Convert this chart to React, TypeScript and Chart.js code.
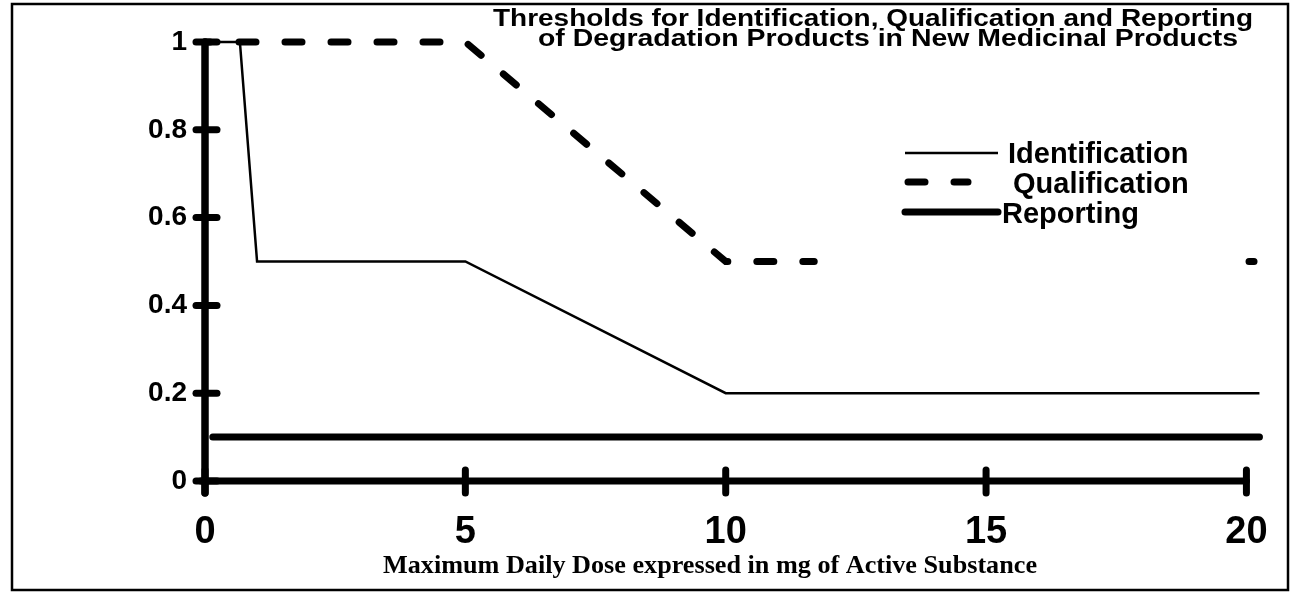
import React, { useEffect, useRef } from 'react';
import { Chart, registerables } from 'chart.js';

Chart.register(...registerables);

// ---- data ----
const identificationX = [0, 0.67, 1, 5, 10, 20.25];
const identificationY = [1, 1, 0.5, 0.5, 0.2, 0.2];

const qualificationX = [0, 5, 10, 11.7, 16, 20.05, 20.25];
const qualificationY: (number | null)[] = [1, 1, 0.5, 0.5, null, 0.5, 0.5];

const reportingX = [0.15, 20.25];
const reportingY = [0.1, 0.1];

const xTickValues = [0, 5, 10, 15, 20];
const yTickValues = [0, 0.2, 0.4, 0.6, 0.8, 1];

const seriesNames = ['Identification', 'Qualification', 'Reporting'];
const titleLines = [
  'Thresholds for Identification, Qualification and Reporting',
  'of Degradation Products in New Medicinal Products',
];
const xAxisTitle = 'Maximum Daily Dose expressed in mg of Active Substance';

const SANS = "'Liberation Sans', Arial, Helvetica, sans-serif";
const SERIF = "'Liberation Serif', 'Times New Roman', serif";

const toPoints = (xs: number[], ys: (number | null)[]) =>
  xs.map((x, i) => ({ x, y: ys[i] }));

// draws text so that it spans [left, right], stretching horizontally if needed
const fitText = (ctx: CanvasRenderingContext2D, text: string, left: number, right: number, baseline: number) => {
  const w = ctx.measureText(text).width;
  const sx = (right - left) / w;
  ctx.save();
  ctx.textAlign = 'left';
  ctx.translate(left, baseline);
  ctx.scale(sx, 1);
  ctx.fillText(text, 0, 0);
  ctx.restore();
};

const decorPlugin = {
  id: 'decor',
  beforeDraw(chart: any) {
    const ctx = chart.ctx;
    ctx.save();
    ctx.fillStyle = '#ffffff';
    ctx.fillRect(0, 0, chart.width, chart.height);
    ctx.strokeStyle = '#000';
    ctx.lineWidth = 2.5;
    ctx.strokeRect(12, 4, 1276, 586);
    ctx.restore();
  },
  beforeDatasetsDraw(chart: any) {
    const ctx = chart.ctx;
    const xs = chart.scales.x;
    const ys = chart.scales.y;
    const x0 = xs.getPixelForValue(0);
    const xEnd = xs.getPixelForValue(xTickValues[xTickValues.length - 1]);
    const y0 = ys.getPixelForValue(0);
    const yTop = ys.getPixelForValue(yTickValues[yTickValues.length - 1]);
    const seg = (a: number, b: number, c: number, d: number, w: number) => {
      ctx.lineWidth = w;
      ctx.beginPath();
      ctx.moveTo(a, b);
      ctx.lineTo(c, d);
      ctx.stroke();
    };
    ctx.save();
    ctx.strokeStyle = '#000';
    ctx.lineCap = 'round';
    // axes
    seg(x0 - 4, y0, xEnd, y0, 7);
    seg(x0, y0 + 12, x0, yTop, 7.5);
    // y tick marks
    yTickValues.forEach((v) => {
      const y = ys.getPixelForValue(v);
      seg(x0 - 9, y, x0 + 12, y, 7);
    });
    // x tick marks
    xTickValues.forEach((v) => {
      const x = xs.getPixelForValue(v);
      seg(x, y0 - 11, x, y0 + 12, 7);
    });
    ctx.restore();
  },
  afterDraw(chart: any) {
    const ctx = chart.ctx;
    ctx.save();
    ctx.fillStyle = '#000';
    ctx.strokeStyle = '#000';
    ctx.textBaseline = 'alphabetic';
    // main title
    ctx.font = `bold 23px ${SANS}`;
    fitText(ctx, titleLines[0], 493, 1253, 26);
    fitText(ctx, titleLines[1], 538, 1238, 46);
    // x axis title
    ctx.font = `bold 25px ${SERIF}`;
    fitText(ctx, xAxisTitle, 383, 1037, 573);

    // legend
    const ds = chart.data.datasets;
    const rows = [
      { y: 153, textX: 1008, base: 163, from: 905, to: 998 },
      { y: 182, textX: 1013, base: 193, from: 908, to: 968 },
      { y: 212, textX: 1002, base: 223, from: 905, to: 998 },
    ];
    rows.forEach((r, i) => {
      const d = ds[i];
      ctx.lineWidth = d.borderWidth;
      ctx.lineCap = d.borderCapStyle || 'butt';
      ctx.setLineDash(d.borderDash || []);
      ctx.lineDashOffset = 0;
      ctx.beginPath();
      ctx.moveTo(r.from, r.y);
      ctx.lineTo(r.to, r.y);
      ctx.stroke();
      ctx.setLineDash([]);
      ctx.font = `bold 29px ${SANS}`;
      ctx.textAlign = 'left';
      ctx.fillText(seriesNames[i], r.textX, r.base);
    });
    ctx.restore();
  },
};

export default function App() {
  const canvasRef = useRef<HTMLCanvasElement | null>(null);

  useEffect(() => {
    document.body.style.margin = '0';
    const canvas = canvasRef.current;
    if (!canvas) return;
    const chart = new Chart(canvas, {
      type: 'line',
      data: {
        datasets: [
          {
            label: seriesNames[0],
            data: toPoints(identificationX, identificationY),
            borderColor: '#000',
            borderWidth: 2.5,
            pointRadius: 0,
            tension: 0,
            fill: false,
            clip: false,
          },
          {
            label: seriesNames[1],
            data: toPoints(qualificationX, qualificationY),
            borderColor: '#000',
            borderWidth: 7,
            borderDash: [17, 29],
            borderDashOffset: 12,
            borderCapStyle: 'round',
            pointRadius: 0,
            tension: 0,
            fill: false,
            spanGaps: false,
            clip: false,
          },
          {
            label: seriesNames[2],
            data: toPoints(reportingX, reportingY),
            borderColor: '#000',
            borderWidth: 7,
            borderCapStyle: 'round',
            pointRadius: 0,
            tension: 0,
            fill: false,
            clip: false,
          },
        ] as any,
      },
      options: {
        responsive: false,
        animation: false,
        devicePixelRatio: 1,
        layout: { padding: { top: 42, right: 30, left: 0, bottom: 0 } },
        plugins: {
          legend: { display: false },
          tooltip: { enabled: false },
          title: { display: false },
        },
        scales: {
          x: {
            type: 'linear',
            min: 0,
            max: 20.3,
            afterFit: (s: any) => {
              s.height = 111;
            },
            afterBuildTicks: (s: any) => {
              s.ticks = xTickValues.map((v) => ({ value: v }));
            },
            grid: { display: false, drawTicks: false },
            border: { display: false },
            ticks: {
              padding: 29,
              color: '#000',
              maxRotation: 0,
              autoSkip: false,
              font: { family: SANS, size: 38, weight: 'bold' },
              callback: (v: any) => String(v),
            },
          },
          y: {
            type: 'linear',
            min: 0,
            max: 1,
            afterFit: (s: any) => {
              s.width = 205;
            },
            afterBuildTicks: (s: any) => {
              s.ticks = yTickValues.map((v) => ({ value: v }));
            },
            grid: { display: false, drawTicks: false },
            border: { display: false },
            ticks: {
              padding: 18,
              color: '#000',
              font: { family: SANS, size: 28, weight: 'bold' },
              callback: (v: any) => String(Math.round(Number(v) * 10) / 10),
            },
          },
        },
      } as any,
      plugins: [decorPlugin],
    });
    return () => chart.destroy();
  }, []);

  return (
    <div style={{ width: 1297, height: 592 }}>
      <canvas ref={canvasRef} width={1297} height={592} style={{ display: 'block' }} />
    </div>
  );
}
